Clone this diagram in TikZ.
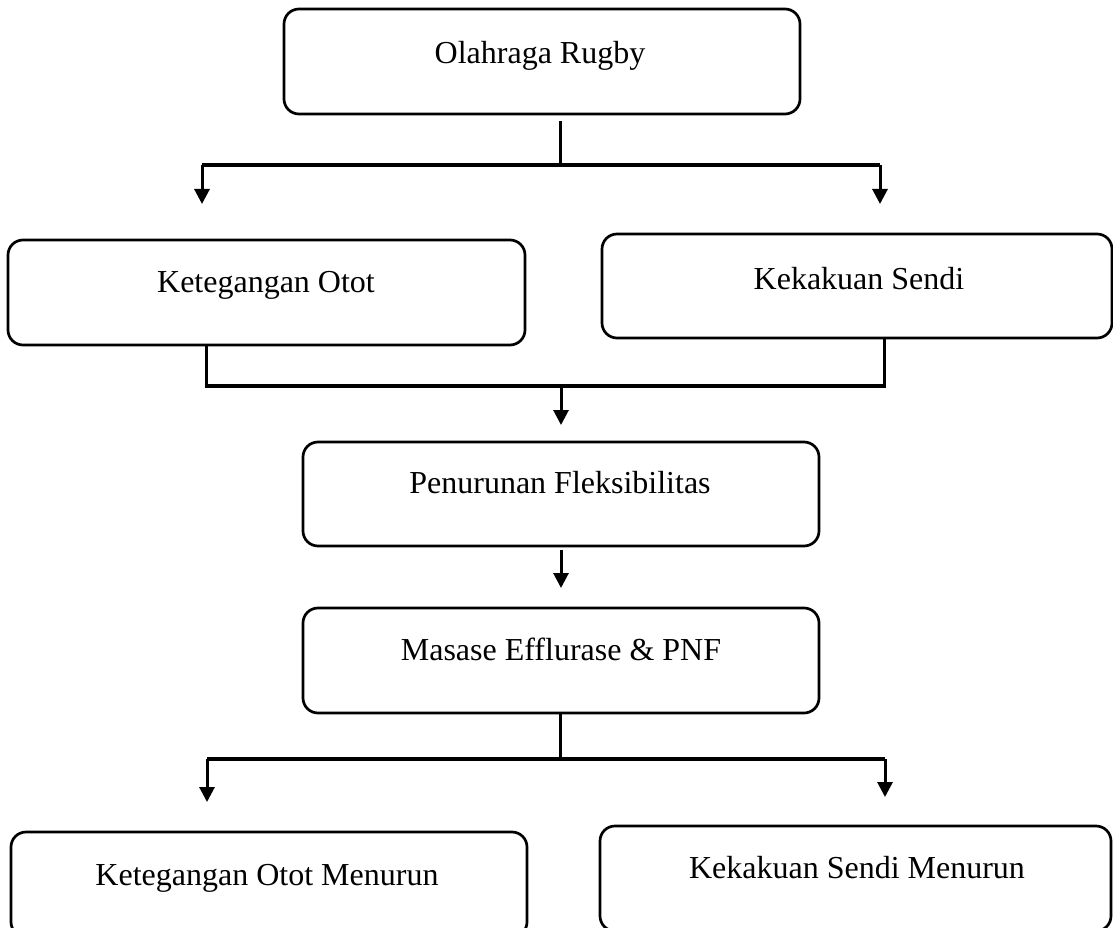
\documentclass[tikz,border=0pt]{standalone}
\usepackage{fontspec}
\setmainfont{Liberation Serif}
\usetikzlibrary{arrows.meta}
\begin{document}
\begin{tikzpicture}[x=1pt,y=-1pt,
  box/.style={draw, line width=2.7pt, rounded corners=15pt, inner sep=0pt},
  lbl/.style={anchor=base, inner sep=0pt, font=\fontsize{32}{38}\selectfont},
  stem/.style={line width=3pt},
  bar/.style={line width=4pt},
  arr/.style={line width=3pt, -{Triangle[width=15pt,length=15pt]}}]
\useasboundingbox (0,0) rectangle (1113,928);
\clip (0,0) rectangle (1113,928);
% boxes
\node[box, minimum width=516pt, minimum height=105pt] (top) at (542,61.5) {};
\node[box, minimum width=517pt, minimum height=105pt] (ko) at (266.5,292.5) {};
\node[box, minimum width=510pt, minimum height=104pt] (ks) at (857,286) {};
\node[box, minimum width=516pt, minimum height=104pt] (pf) at (561,494) {};
\node[box, minimum width=516pt, minimum height=105pt] (mp) at (561,660.5) {};
\node[box, minimum width=516pt, minimum height=105pt] (kom) at (269,884.5) {};
\node[box, minimum width=511pt, minimum height=105pt] (ksm) at (855.5,878.5) {};
% texts
\node[lbl] (t1) at (540,64) {Olahraga Rugby};
\node[lbl] (t2) at (266,292) {Ketegangan Otot};
\node[lbl] (t3) at (859,289) {Kekakuan Sendi};
\node[lbl] (t4) at (560,493) {Penurunan Fleksibilitas};
\node[lbl] (t5) at (561,660) {Masase Efflurase \& PNF};
\node[lbl] (t6) at (267,885) {Ketegangan Otot Menurun};
\node[lbl] (t7) at (857,878) {Kekakuan Sendi Menurun};
% connector coordinates
\coordinate (j1) at (560,165);
\coordinate (j1l) at (202,165);
\coordinate (j1r) at (880,165);
\coordinate (a1l) at (202,204);
\coordinate (a1r) at (880,204);
\coordinate (j2) at (561,386);
\coordinate (j2l) at (206,386);
\coordinate (j2r) at (884,386);
\coordinate (a2) at (561,425);
\coordinate (a3) at (561,588);
\coordinate (j4) at (560,759);
\coordinate (j4l) at (207,759);
\coordinate (j4r) at (885,759);
\coordinate (a4l) at (207,802);
\coordinate (a4r) at (885,797);
% top split
\draw[stem] ([yshift=-6pt]top.south -| j1) -- (j1);
\draw[bar] (j1l) -- (j1r);
\draw[arr] (j1l) -- (a1l);
\draw[arr] (j1r) -- (a1r);
% merge
\draw[stem] ([yshift=2pt]ko.south -| j2l) -- (j2l);
\draw[stem] ([yshift=2pt]ks.south -| j2r) -- (j2r);
\draw[bar] ([xshift=-1.5pt]j2l) -- ([xshift=1.5pt]j2r);
\draw[arr] (j2) -- (a2);
% pf -> mp
\draw[arr] ([yshift=-3pt]pf.south -| a3) -- (a3);
% bottom split
\draw[stem] (mp.south -| j4) -- (j4);
\draw[bar] (j4l) -- (j4r);
\draw[arr] (j4l) -- (a4l);
\draw[arr] (j4r) -- (a4r);
\end{tikzpicture}
\end{document}
